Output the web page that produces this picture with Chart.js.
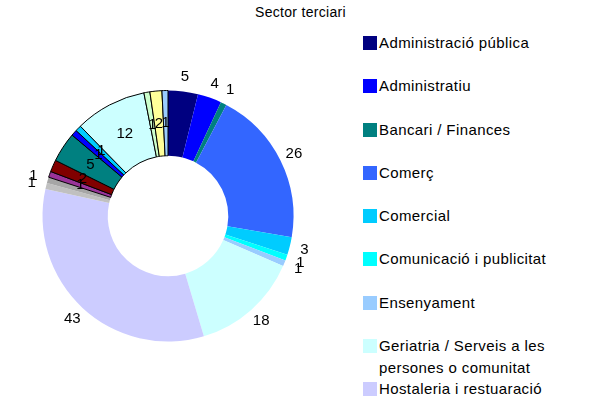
<!DOCTYPE html>
<html>
<head>
<meta charset="utf-8">
<script src="https://cdn.jsdelivr.net/npm/chart.js@4"></script>
<style>
  body { margin: 0; width: 598px; height: 401px; overflow: hidden; background: #fff; font-family: "Liberation Sans", Arial, sans-serif; position: relative; }
  #wrap { position: absolute; left: 0; top: 0; width: 336px; height: 401px; }
  #title { position: absolute; left: 255px; top: 4px; font-size: 14px; letter-spacing: 0.3px; color: #000; }
  #legend { position: absolute; left: 363px; top: 32px; font-size: 15px; letter-spacing: 0.4px; color: #000; }
  .item { position: relative; height: 43.3px; line-height: 22px; padding-left: 16px; white-space: nowrap; }
  .box { position: absolute; left: 0; top: 4px; width: 14px; height: 14px; }
</style>
</head>
<body>
<div id="title">Sector terciari</div>
<div id="wrap"><canvas id="doughnut-chart"></canvas></div>
<div id="legend"></div>
<script>
// categories (legend order = slice order)
const labels = ["Administració pública", "Administratiu", "Bancari / Finances", "Comerç", "Comercial",
  "Comunicació i publicitat", "Ensenyament", "Geriatria / Serveis a les\npersones o comunitat", "Hostaleria i restuaració",
  "Immobiliària", "Indústria", "Informàtica", "Logística", "Neteja", "Oficis", "Oci", "Sanitat", "Seguretat", "Transport", "Turisme"];
const values = [5, 4, 1, 26, 3, 1, 1, 18, 43, 1, 1, 1, 2, 5, 1, 1, 12, 1, 2, 1];
const colors = ["#000080", "#0000FF", "#008080", "#3366FF", "#00CCFF", "#00FFFF", "#99CCFF", "#CCFFFF", "#CCCCFF",
  "#C0C0C0", "#A6A6A6", "#993399", "#800000", "#008080", "#0000FF", "#00CCFF", "#CCFFFF", "#CCFFCC", "#FFFF99", "#99CCFF"];
// slices drawn with a black outline and labelled inside the ring
const insideFrom = 11;

// legend
const legend = document.getElementById("legend");
labels.forEach((l, i) => {
  const d = document.createElement("div");
  d.className = "item";
  d.innerHTML = '<span class="box" style="background:' + colors[i] + '"></span>' + l.replace("\n", "<br>");
  legend.appendChild(d);
});

// value labels
const valueLabels = {
  id: "valueLabels",
  afterDatasetsDraw(chart) {
    const ctx = chart.ctx;
    const meta = chart.getDatasetMeta(0);
    ctx.save();
    ctx.font = "15px 'Liberation Sans', Arial, sans-serif";
    ctx.fillStyle = "#000";
    ctx.textAlign = "center";
    ctx.textBaseline = "middle";
    meta.data.forEach((arc, i) => {
      const p = arc.getProps(["x", "y", "startAngle", "endAngle", "innerRadius", "outerRadius"], true);
      const a = (p.startAngle + p.endAngle) / 2;
      const r = i >= insideFrom ? (p.innerRadius + p.outerRadius) / 2 : p.outerRadius + 15;
      ctx.fillText(String(values[i]), p.x + r * Math.cos(a), p.y + r * Math.sin(a));
    });
    ctx.restore();
  }
};

new Chart(document.getElementById("doughnut-chart"), {
  type: 'doughnut',
  data: {
    labels: labels,
    datasets: [{
      data: values,
      backgroundColor: colors,
      borderColor: values.map((v, i) => i >= insideFrom ? "#000" : "rgba(0,0,0,0)"),
      borderWidth: values.map((v, i) => i >= insideFrom ? 1 : 0)
    }]
  },
  options: {
    responsive: true,
    maintainAspectRatio: false,
    animation: false,
    cutout: '48%',
    layout: { padding: { left: 42, right: 42, top: 90, bottom: 59 } },
    plugins: {
      legend: { display: false },
      tooltip: { enabled: false }
    }
  },
  plugins: [valueLabels]
});
</script>
</body>
</html>
